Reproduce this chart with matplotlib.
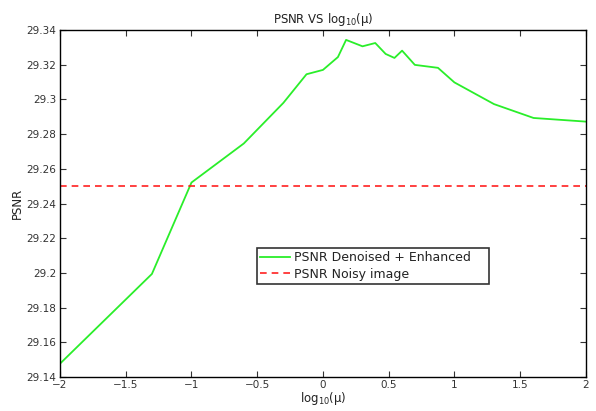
import matplotlib
matplotlib.use('Agg')
import matplotlib.pyplot as plt

plt.rcParams['font.family'] = ['DejaVu Sans']
plt.rcParams['mathtext.default'] = 'regular'

# data
log_mu = [-2.0, -1.301, -1.0, -0.602, -0.301, -0.125, 0.0, 0.114, 0.176, 0.301,
          0.398, 0.477, 0.544, 0.602, 0.699, 0.875, 1.0, 1.301, 1.602, 2.0]
psnr_enh = [29.1477, 29.1994, 29.2521, 29.2746, 29.2980, 29.3145, 29.3170, 29.3244,
            29.3343, 29.3306, 29.3325, 29.3262, 29.3239, 29.3281, 29.3199, 29.3182,
            29.3098, 29.2973, 29.2893, 29.2872]
psnr_noisy = 29.25

xticks = [-2, -1.5, -1, -0.5, 0, 0.5, 1, 1.5, 2]
xtick_labels = ['\u22122', '\u22121.5', '\u22121', '\u22120.5', '0', '0.5', '1', '1.5', '2']
yticks = [29.14, 29.16, 29.18, 29.2, 29.22, 29.24, 29.26, 29.28, 29.3, 29.32, 29.34]
ytick_labels = ['29.14', '29.16', '29.18', '29.2', '29.22', '29.24', '29.26', '29.28',
                '29.3', '29.32', '29.34']

fig = plt.figure(figsize=(5.96, 4.11), dpi=100)
ax = fig.add_axes([0.1007, 0.0827, 0.8823, 0.8443])

ax.plot(log_mu, psnr_enh, color='#2aee2a', lw=1.3, label='PSNR Denoised + Enhanced')
ax.plot([-2, 2], [psnr_noisy, psnr_noisy], color='#ff2020', lw=1.2, ls=(0, (4, 3)),
        label='PSNR Noisy image')

ax.set_xlim(-2, 2)
ax.set_ylim(29.14, 29.34)
ax.set_xticks(xticks)
ax.set_xticklabels(xtick_labels)
ax.set_yticks(yticks)
ax.set_yticklabels(ytick_labels)
ax.tick_params(direction='in', length=4, width=0.8, labelsize=7.5, top=True, right=True,
               colors='#333333')
ax.tick_params(axis='x', pad=2)
ax.tick_params(axis='y', pad=2.5)
for s in ax.spines.values():
    s.set_linewidth(1.0)

ax.set_title('PSNR VS log$_{10}$(\u03bc)', fontsize=8.5, pad=5, color='#222222')
ax.set_xlabel('log$_{10}$(\u03bc)', fontsize=8.5, labelpad=0.5, color='#222222')
ax.set_ylabel('PSNR', fontsize=8.5, labelpad=2, color='#222222')

leg = ax.legend(loc='lower left', bbox_to_anchor=(0.374, 0.269, 0.442, 0.116),
                mode='expand', fontsize=9, frameon=True, fancybox=False,
                handlelength=2.4, handletextpad=0.3, borderpad=0.25, labelspacing=0.25,
                borderaxespad=0)
leg.get_frame().set_edgecolor('black')
leg.get_frame().set_linewidth(1.2)
for t in leg.get_texts():
    t.set_color('#222222')

fig.savefig('out.png', dpi=100)
